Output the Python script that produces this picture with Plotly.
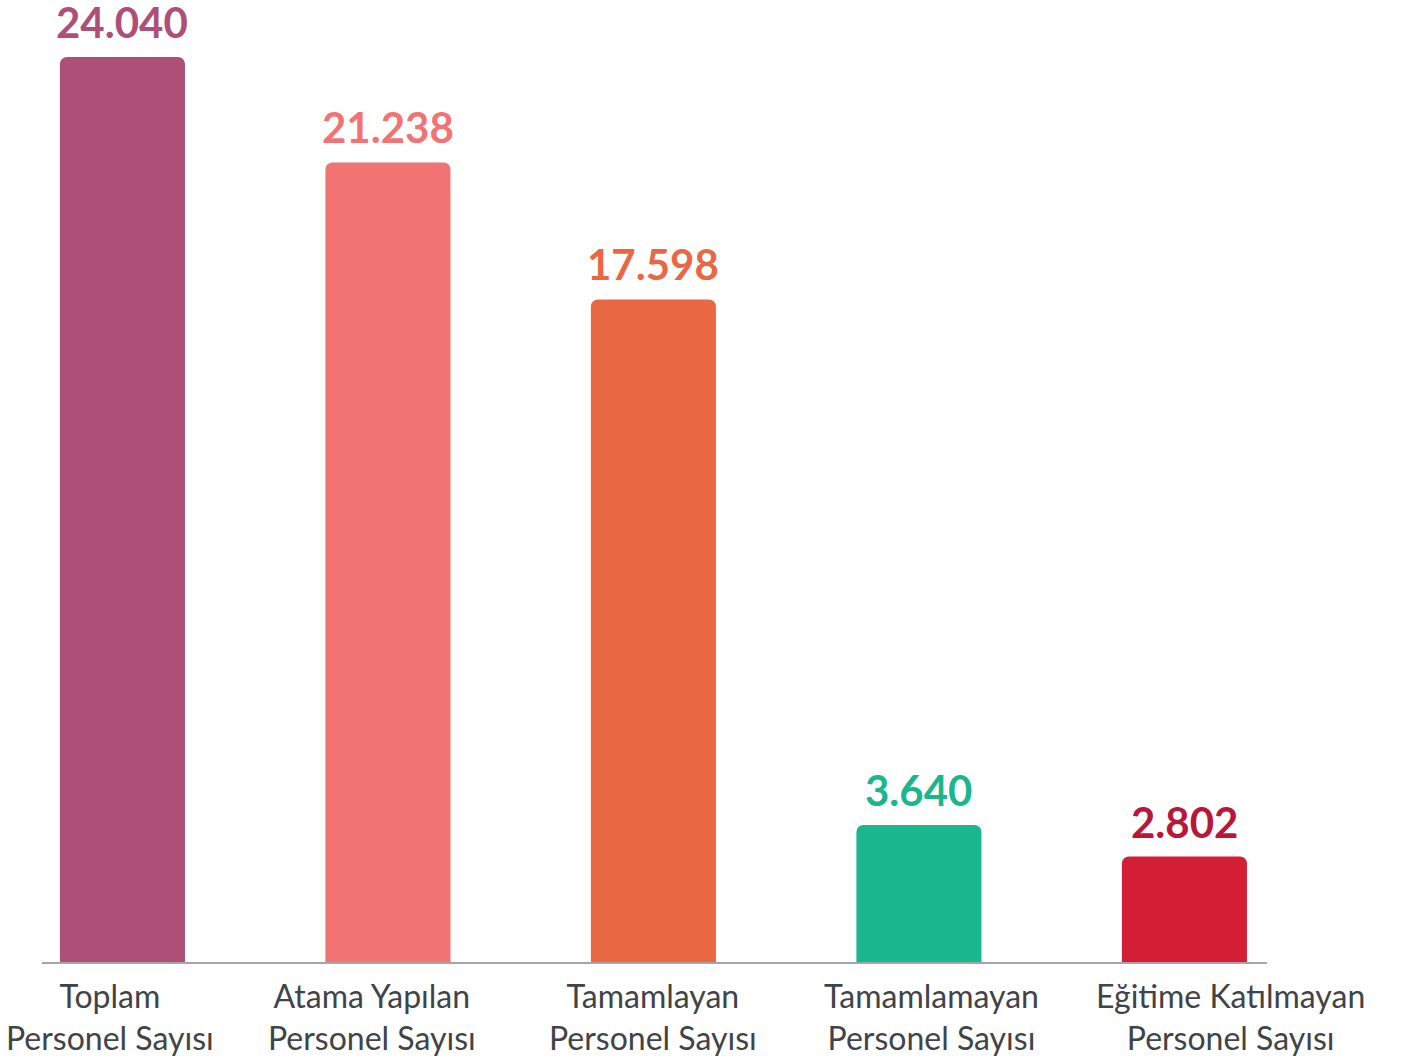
import plotly.graph_objects as go

categories = ["Toplam<br>Personel Sayısı", "Atama Yapılan<br>Personel Sayısı",
              "Tamamlayan<br>Personel Sayısı", "Tamamlamayan<br>Personel Sayısı",
              "Eğitime Katılmayan<br>Personel Sayısı"]
values = [24040, 21238, 17598, 3640, 2802]
value_labels = ["24.040", "21.238", "17.598", "3.640", "2.802"]

bar_colors = ["#AE4F77", "#F27374", "#EA6744", "#1AB78F", "#D41E35"]
label_colors = ["#AE4F77", "#F27374", "#EA6744", "#1AB78F", "#B8173A"]
cat_xshift = [-12, -16, 0, 13, 46]

x = list(range(len(values)))

fig = go.Figure(go.Bar(
    x=x, y=values, width=0.471,
    marker=dict(color=bar_colors, cornerradius=7, line=dict(width=0)),
    hoverinfo="skip",
))

annotations = []
for i, (v, t) in enumerate(zip(values, value_labels)):
    annotations.append(dict(x=i, y=v, xref="x", yref="y", text=t, showarrow=False,
                            yanchor="bottom", yshift=8,
                            font=dict(family="Lato", size=42, color=label_colors[i], weight="bold")))
    annotations.append(dict(x=i, y=0, xref="x", yref="paper", text=categories[i], showarrow=False,
                            yanchor="top", yshift=-12, xshift=cat_xshift[i],
                            font=dict(family="Lato", size=32, color="#404448")))

fig.update_layout(
    width=1402, height=1059,
    margin=dict(l=42, r=135, t=0, b=97),
    paper_bgcolor="white", plot_bgcolor="white",
    showlegend=False,
    annotations=annotations,
    xaxis=dict(range=[-0.303, 4.311], showticklabels=False, ticks="", showgrid=False,
               zeroline=False, showline=True, linecolor="#A6A6A6", linewidth=2),
    yaxis=dict(range=[0, 25552], visible=False, showgrid=False, zeroline=False),
)

fig.write_html("out.html", config={"displayModeBar": False},
               post_script="document.body.style.margin='0';")
